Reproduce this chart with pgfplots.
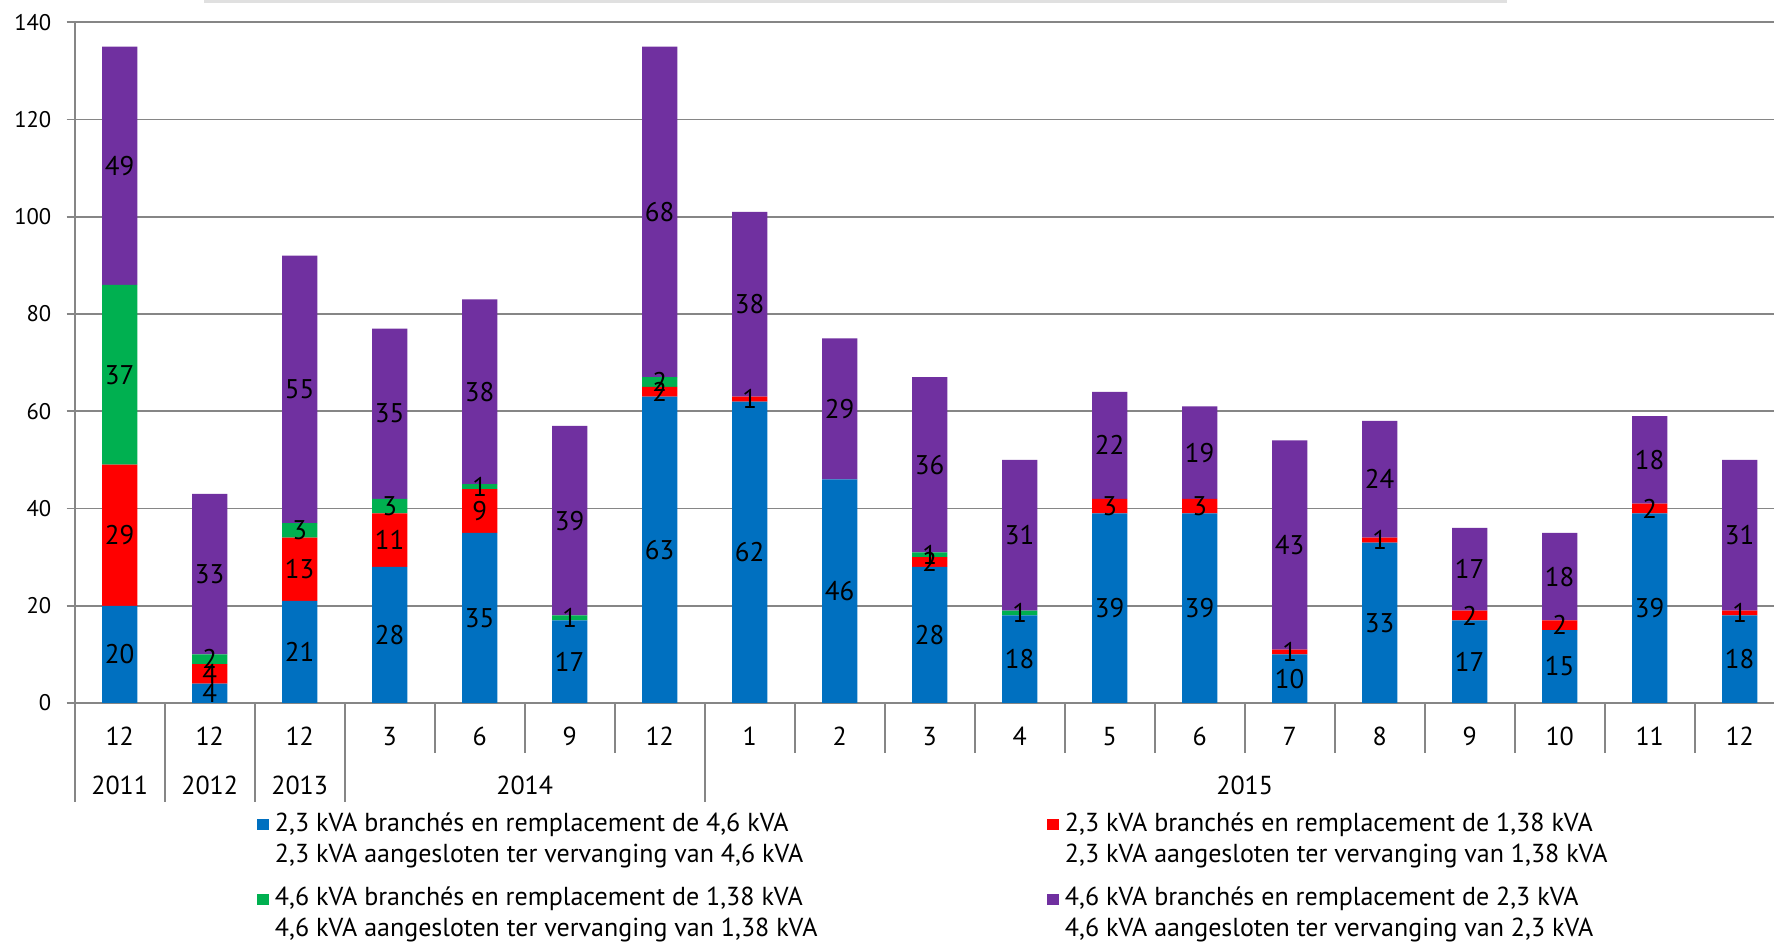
\documentclass[border=0pt]{standalone}
\usepackage{fontspec}
\setmainfont{PT Sans}
\usepackage{pgfplots}
\pgfplotsset{compat=1.18}
\usepackage{pgfplotstable}

\definecolor{cblue}{RGB}{0,112,192}
\definecolor{cred}{RGB}{255,0,0}
\definecolor{cgreen}{RGB}{0,176,80}
\definecolor{cpurple}{RGB}{112,48,160}
\definecolor{gridc}{RGB}{134,134,134}

\pgfplotsset{
  sqleg/.style={legend image code/.code={\fill[##1] (0pt,0.5pt) rectangle (6pt,6pt);}},
}

% x = position of the category, then the four stacked series
\pgfplotstableread{
x  blue red green purple
0  20   29  37    49
1  4    4   2     33
2  21   13  3     55
3  28   11  3     35
4  35   9   1     38
5  17   0   1     39
6  63   2   2     68
7  62   1   0     38
8  46   0   0     29
9  28   2   1     36
10 18   0   1     31
11 39   3   0     22
12 39   3   0     19
13 10   1   0     43
14 33   1   0     24
15 17   2   0     17
16 15   2   0     18
17 39   2   0     18
18 18   1   0     31
}\data

\begin{document}
\begin{tikzpicture}
\begin{axis}[
  at={(37.35pt,119.5pt)}, anchor=south west,
  x=45pt, y=2.4311pt,
  xmin=-0.5, xmax=18.5, ymin=0, ymax=140,
  ybar stacked, bar width=17.65pt,
  axis lines*=left,
  axis line style={draw=gridc, line width=0.9pt},
  ymajorgrids, major grid style={draw=gridc, line width=0.9pt},
  ytick={0,20,...,140},
  tick align=outside, major tick length=4pt,
  ytick style={draw=gridc, line width=0.9pt},
  xtick={0,...,18},
  xticklabels={12,12,12,3,6,9,12,1,2,3,4,5,6,7,8,9,10,11,12},
  xtick style={draw=none},
  xticklabel style={anchor=center, yshift=-12.8pt, font=\fontsize{13}{15}\selectfont},
  yticklabel style={font=\fontsize{11.3}{13}\selectfont, xshift=-4.2pt},
  /pgf/number format/assume math mode=true,
  clip=false,
  nodes near coords={\ifdim\val pt>0pt\relax\pgfmathprintnumber[fixed,precision=0]{\val}\fi},
  every node near coord/.append style={anchor=center,
    text=black, font=\fontsize{13.5}{15}\selectfont, inner sep=0pt},
  legend columns=2,
  legend style={at={(axis description cs:0.1066,-0.1567)}, anchor=north west,
    draw=none, fill=none, inner sep=0pt, outer sep=0pt,
    font=\fontsize{13}{15.5}\selectfont,
    cells={anchor=base west}, nodes={inner sep=0pt},
    row sep=24.8pt,
    /tikz/every odd column/.append style={column sep=3pt}},
]
\addplot[fill=cblue, draw=none, sqleg, visualization depends on={\thisrow{blue}\as\val}]
  table[x=x, y=blue] {\data};
\addlegendentry{\begin{tabular}[t]{@{}p{386pt}@{}}2,3 kVA branchés en remplacement de 4,6 kVA\\2,3 kVA aangesloten ter vervanging van 4,6 kVA\end{tabular}}
\addplot[fill=cred, draw=none, sqleg, visualization depends on={\thisrow{red}\as\val}]
  table[x=x, y=red] {\data};
\addlegendentry{\begin{tabular}[t]{@{}p{386pt}@{}}2,3 kVA branchés en remplacement de 1,38 kVA\\2,3 kVA aangesloten ter vervanging van 1,38 kVA\end{tabular}}
\addplot[fill=cgreen, draw=none, sqleg, visualization depends on={\thisrow{green}\as\val}]
  table[x=x, y=green] {\data};
\addlegendentry{\begin{tabular}[t]{@{}p{386pt}@{}}4,6 kVA branchés en remplacement de 1,38 kVA\\4,6 kVA aangesloten ter vervanging van 1,38 kVA\end{tabular}}
\addplot[fill=cpurple, draw=none, sqleg, visualization depends on={\thisrow{purple}\as\val}]
  table[x=x, y=purple] {\data};
\addlegendentry{\begin{tabular}[t]{@{}p{386pt}@{}}4,6 kVA branchés en remplacement de 2,3 kVA\\4,6 kVA aangesloten ter vervanging van 2,3 kVA\end{tabular}}

% two-level category axis: separators and years
\draw[gridc, line width=0.9pt] (axis cs:-0.5,0) -- ++(0pt,-49.4pt);
\pgfplotsinvokeforeach{0.5,1.5,2.5,3.5,4.5,5.5,6.5,7.5,8.5,9.5,10.5,11.5,12.5,13.5,14.5,15.5,16.5,17.5}{
  \draw[gridc, line width=0.9pt] (axis cs:#1,0) -- ++(0pt,-24.9pt);
}
\pgfplotsinvokeforeach{0.5,1.5,2.5,6.5}{
  \draw[gridc, line width=0.9pt] (axis cs:#1,0) ++(0pt,-24.9pt) -- ++(0pt,-24.5pt);
}
\node[font=\fontsize{13}{15}\selectfont] at (axis cs:0,0) [yshift=-41pt] {2011};
\node[font=\fontsize{13}{15}\selectfont] at (axis cs:1,0) [yshift=-41pt] {2012};
\node[font=\fontsize{13}{15}\selectfont] at (axis cs:2,0) [yshift=-41pt] {2013};
\node[font=\fontsize{13}{15}\selectfont] at (axis cs:4.5,0) [yshift=-41pt] {2014};
\node[font=\fontsize{13}{15}\selectfont] at (axis cs:12.5,0) [yshift=-41pt] {2015};
\end{axis}
\fill[black!12] (102pt,469.6pt) rectangle (753.5pt,471pt);
\pgfresetboundingbox
\path[use as bounding box] (0,0) rectangle (887pt,471pt);
\end{tikzpicture}
\end{document}
